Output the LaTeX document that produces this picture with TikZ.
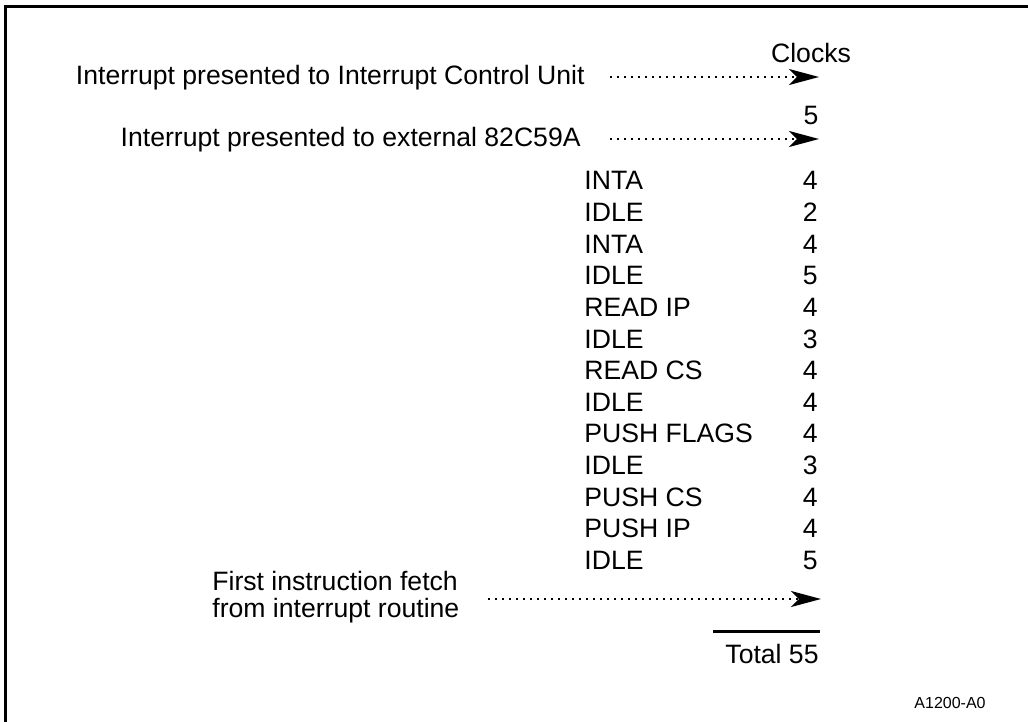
\documentclass[tikz,border=0pt]{standalone}
\usepackage{fontspec}
\setmainfont{Liberation Sans}
\usepackage{tikz}
\usetikzlibrary{positioning, arrows.meta, calc}
\tikzset{
    label/.style={
        inner sep=0pt,
        font=\fontsize{13.3}{13.5}\selectfont
    },
    dotarrow/.style={
        -{Stealth[length=15pt, width=8pt, inset=4pt]},
        line width=1.1pt,
        dash pattern=on 1.1pt off 2.4pt
    },
    frame/.style={
        line width=1.5pt
    }
}

\begin{document}
\begin{tikzpicture}[x=0.5pt, y=-0.5pt]
    \useasboundingbox (0,0) rectangle (1028,722);
    \draw[frame] (5,722) -- (5,7) -- (1028,7);

    \node[label, anchor=base] (clocks) at (811,63) {Clocks};
    \node[label, anchor=base east] (icu) at (585,85) {Interrupt presented to Interrupt Control Unit};
    \node[label, anchor=base] (five) at (811,125) {5};
    \node[label, anchor=base east] (ext) at (581,147) {Interrupt presented to external 82C59A};

    \coordinate (icuS) at (610,77);
    \coordinate (icuE) at (819,77);
    \coordinate (extS) at (610,139);
    \coordinate (extE) at (819,139);
    \draw[dotarrow] (icuS) -- (icuE);
    \draw[dotarrow] (extS) -- (extE);

    % bus cycles and their clock counts
    \foreach \cyc/\clk [count=\i from 0] in {INTA/4, IDLE/2, INTA/4, IDLE/5, READ IP/4, IDLE/3,
        READ CS/4, IDLE/4, PUSH FLAGS/4, IDLE/3, PUSH CS/4, PUSH IP/4, IDLE/5} {
        \node[label, anchor=base west] (cyc\i) at (584,{190+31.6*\i}) {\cyc};
        \node[label, anchor=base east] (clk\i) at (818,{190+31.6*\i}) {\clk};
    }

    \node[label, anchor=west, align=left] (fetch) at (212,597) {First instruction fetch\\from interrupt routine};
    \coordinate (fetchS) at (488,599);
    \coordinate (fetchE) at (821,599);
    \draw[dotarrow] (fetchS) -- (fetchE);

    \coordinate (sumL) at (713,631);
    \coordinate (sumR) at (820,631);
    \draw[frame] (sumL) -- (sumR);
    \node[label, anchor=base east] (total) at (819,663) {Total 55};

    \node[inner sep=0pt, font=\fontsize{8}{9}\selectfont, anchor=base east] (figid) at (986,708) {A1200-A0};
\end{tikzpicture}
\end{document}
